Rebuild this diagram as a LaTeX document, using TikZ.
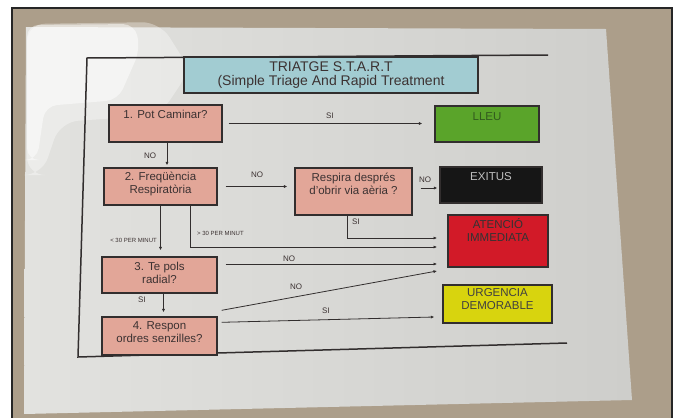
\documentclass[tikz,border=0pt]{standalone}
\usepackage{fontspec}
\setmainfont{Liberation Sans}
\usetikzlibrary{arrows.meta,positioning}

\definecolor{wallc}{RGB}{172,158,138}
\definecolor{paperl}{RGB}{226,226,223}
\definecolor{paperr}{RGB}{206,206,203}
\definecolor{inkc}{RGB}{50,46,46}
\definecolor{txtc}{RGB}{60,50,50}
\definecolor{pinkc}{RGB}{226,166,152}
\definecolor{titlec}{RGB}{162,204,210}
\definecolor{lleuc}{RGB}{90,164,42}
\definecolor{lleut}{RGB}{50,90,30}
\definecolor{exitc}{RGB}{22,22,22}
\definecolor{atenc}{RGB}{210,26,40}
\definecolor{urgc}{RGB}{216,212,14}

\begin{document}
\begin{tikzpicture}[x=1pt,y=-1pt,
  qbox/.style={draw=inkc,line width=1.4pt,fill=pinkc,inner sep=0pt},
  obox/.style={draw=inkc,line width=1.4pt,inner sep=0pt},
  boxtxt/.style={inner sep=0pt,align=center,font=\fontsize{11.5}{13}\selectfont,text=txtc},
  tag/.style={inner sep=0pt,font=\fontsize{8}{9}\selectfont,text=txtc},
  smalltag/.style={inner sep=0pt,font=\fontsize{6}{7}\selectfont,text=txtc},
  arr/.style={draw=inkc,line width=0.8pt,-{Latex[length=3.5pt,width=3.2pt]}}]
\useasboundingbox (0,0) rectangle (678,418);
\fill[white] (0,0) rectangle (678,418);
\fill[wallc] (12,8) rectangle (672,418);
\shade[left color=paperl,right color=paperr] (26,27) -- (606,29) -- (632,400) -- (24,414) -- cycle;
\fill[white,opacity=0.35,rounded corners=18pt] (27,24) -- (160,22) -- (190,70) -- (160,115) -- (60,122) -- (42,175) -- (27,175) -- cycle;
\fill[white,opacity=0.5,rounded corners=12pt] (27,25) -- (135,24) -- (140,50) -- (118,100) -- (45,106) -- (37,160) -- (27,160) -- cycle;
\draw[line width=2pt,black!85] (12,418) -- (12,8) -- (672,8) -- (672,418);
\draw[inkc,line width=1.5pt] (548,55) -- (87,58) -- (78,357) -- (567,343);

\node[obox,fill=titlec,minimum width=294pt,minimum height=36pt,align=center,font=\fontsize{14}{14}\selectfont,text=txtc] (title) at (331,75) {TRIATGE S.T.A.R.T\\(Simple Triage And Rapid Treatment};

\node[qbox,minimum width=113pt,minimum height=37pt] (walk) at (165.5,123.5) {};
\node[boxtxt,below=6pt of walk.north] (walkt) {1. Pot Caminar?};
\node[qbox,minimum width=113pt,minimum height=37pt] (freq) at (160.5,186.5) {};
\node[boxtxt,below=5pt of freq.north] (freqt) {2. Freqüència\\Respiratòria};
\node[qbox,minimum width=117pt,minimum height=47pt] (resp) at (353.5,191.5) {};
\node[boxtxt,below=6pt of resp.north] (respt) {Respira després\\d'obrir via aèria ?};
\node[qbox,minimum width=115pt,minimum height=36pt] (pols) at (159.5,275) {};
\node[boxtxt,below=6pt of pols.north] (polst) {3. Te pols\\radial?};
\node[qbox,minimum width=115pt,minimum height=38pt] (ordres) at (159.5,336) {};
\node[boxtxt,below=5pt of ordres.north] (ordrest) {4. Respon\\ordres senzilles?};

\node[obox,fill=lleuc,minimum width=104pt,minimum height=36pt] (lleu) at (487,124) {};
\node[boxtxt,text=lleut,below=7pt of lleu.north] (lleutx) {LLEU};
\node[obox,fill=exitc,minimum width=102pt,minimum height=36pt] (exitus) at (491,185) {};
\node[boxtxt,text=black!25,below=6pt of exitus.north] (exitust) {EXITUS};
\node[obox,fill=atenc,minimum width=100pt,minimum height=52pt] (aten) at (498,241) {};
\node[boxtxt,text=black!80,below=4pt of aten.north] (atent) {ATENCIÓ\\IMMEDIATA};
\node[obox,fill=urgc,minimum width=109pt,minimum height=38pt] (urg) at (497.5,304) {};
\node[boxtxt,text=black!75,below=4pt of urg.north] (urgt) {URGENCIA\\DEMORABLE};

\coordinate (inA) at (437,238);
\coordinate (inB) at (437,247);
\coordinate (inC) at (437,264);
\coordinate (inD) at (437,271);

\draw[arr] ([xshift=6pt]walk.east) -- ([xshift=-12pt]walk.east -| lleu.west);
\draw[arr,shorten >=2pt] ([xshift=1.5pt]walk.south) -- ([xshift=1.5pt]walk.south |- freq.north);
\draw[arr] ([xshift=8pt]freq.east) -- ([xshift=-7pt]freq.east -| resp.west);
\draw[arr] ([xshift=8pt,yshift=3.5pt]resp.east) -- ([xshift=-2pt,yshift=-3pt]exitus.west);
\draw[arr] ([xshift=-6pt]resp.south) |- (inA);
\draw[arr] ([xshift=30pt]freq.south) |- (inB);
\draw[arr,shorten >=6pt] (freq.south) -- (freq.south |- pols.north);
\draw[arr] ([xshift=8pt,yshift=11pt]pols.east) -- (inC);
\draw[arr,shorten >=4pt] ([xshift=4pt]pols.south) -- ([xshift=4pt]pols.south |- ordres.north);
\draw[arr] ([shift={(4pt,6pt)}]ordres.north east) -- (inD);
\draw[arr] ([shift={(4pt,-6pt)}]ordres.north east) -- ([shift={(-8pt,-13pt)}]urg.west);

\node[tag] (siwalk) at (330,116) {SI};
\node[tag] (nowalk) at (150,156) {NO};
\node[tag] (nofreq) at (257,175) {NO};
\node[tag] (noresp) at (425,180) {NO};
\node[tag] (siresp) at (356,222) {SI};
\node[smalltag,anchor=west] (fast) at (197,233) {> 30 PER MINUT};
\node[smalltag,anchor=east] (slow) at (157,240) {< 30 PER MINUT};
\node[tag] (nopols) at (289,259) {NO};
\node[tag] (sipols) at (142,300) {SI};
\node[tag] (noordres) at (296,287) {NO};
\node[tag] (siordres) at (326,311) {SI};
\end{tikzpicture}
\end{document}
